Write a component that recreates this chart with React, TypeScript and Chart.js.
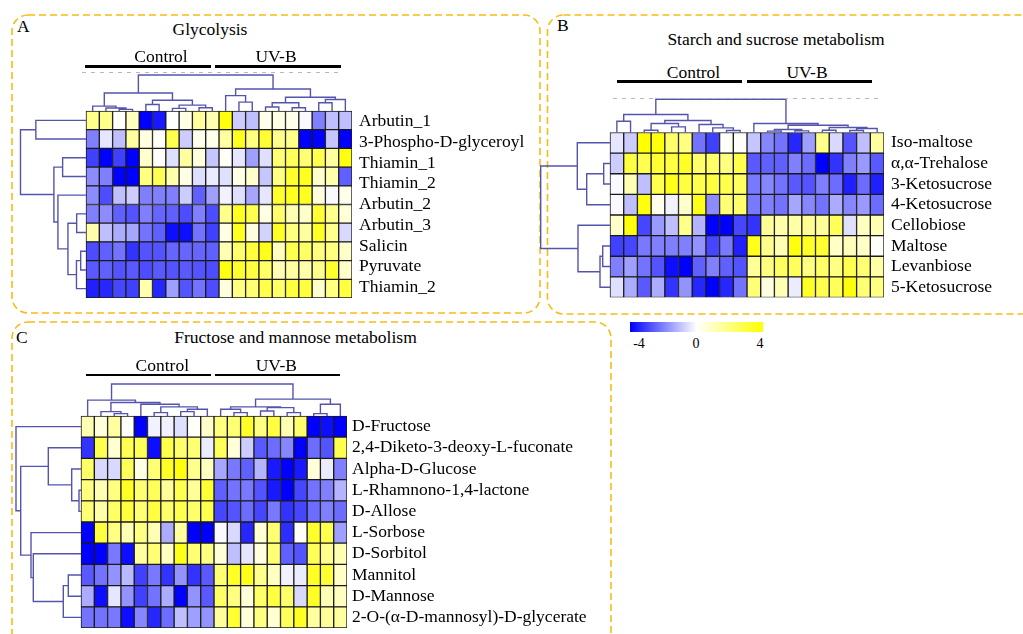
import React, { useEffect, useRef } from "react";
import { Chart, registerables } from "chart.js";

Chart.register(...registerables);

const FONT = '"Times New Roman", "Liberation Serif", serif';

// ---------------- DATA ----------------
const groupNames = ["Control", "UV-B"];
const colorbarTicks = ["-4", "0", "4"];

// Panel A: Glycolysis (10 rows x 20 samples; 9 row labels as in the figure)
const glycolysisLabels = [
  "Arbutin_1", "3-Phospho-D-glyceroyl", "Thiamin_1", "Thiamin_2", "Arbutin_2",
  "Arbutin_3", "Salicin", "Pyruvate", "Thiamin_2",
];
const glycolysisValues = [
  [1.8, 1.8, 0.1, 1.0, -4, -3.6, 0, 0.4, 1.5, 1.2, 3.8, -0.8, -1, 0.3, 0.4, 0.3, -0.1, -2, -1, -1],
  [-2, -0.4, -1, 1.5, 0.5, 0.1, 2.8, -0.8, 0.3, 0.3, 1.5, 3.5, 2, 3.2, 1.8, 1.8, -4, -4, -0.9, -4],
  [-3, -4, -3, -4, 0.8, 0.1, -0.5, 1.5, 0.5, -0.9, 0.1, -0.4, -1.5, -0.5, 2.2, 2.6, 2.2, 2.8, 1.5, 3.8],
  [-1.8, -2, -4, -4, 2, 2.7, 1.3, 0.4, -0.5, -0.3, -0.5, 0.4, 0.8, -0.9, 2, 3.3, 3.5, 0.8, 1.3, -2.5],
  [-1.8, -2.8, -1, -0.8, -2, -2, -2, -0.8, -2.5, -1.5, -0.2, -0.5, -1.4, -0.4, 3.3, 3.5, 3.5, 0.5, -0.1, 0.3],
  [-2, -1.8, -2.5, -2.7, -2, -2.4, -2.5, -2.8, -2, -2.8, 1.8, 3.5, 2.8, 0.4, 2.3, 1.2, 0.8, 3.2, 1.8, 0.6],
  [1.3, -1, -1.3, -1.4, -2.2, -2.5, -3.8, -3.8, -2.2, -3, 0.4, 3.5, 0.5, -0.7, 3.4, 2, 1.5, 3.4, 1.8, -0.6],
  [-2.8, -2.5, -2.2, -3.2, -2.7, -2.7, -2.4, -2.4, -2.4, -2.5, 1.2, 2.3, 3, 3.6, 1, 2.8, 2.4, 2, 2, 0.8],
  [-2.6, -2.5, -2.7, -2.6, -2.8, -2.6, -2.7, -2.6, -2.7, -2.8, 3.7, 3.3, 3, 2.4, 1.2, 1.5, 1.3, 1.8, 3.3, 0.8],
  [-3.5, -3.4, -2.9, -3, 1.3, -3.4, -1.5, -2.7, -2.2, -2.8, 0.5, 2, 2.2, 2.8, 2.4, 3, 3, 0.8, 2, 3],
];
// trees: leaf = index, node = [left, right, height]
const glycolysisColTree = [
  [[0, [1, [2, 3, 5], 9], 15], [[4, 5, 20], [[6, 7, 8], [8, 9, 10], 18], 33], 55],
  [[10, [11, 12, 27], 47], [[[13, 14, 12], [15, 16, 10], 25], [[17, 18, 25], 19, 35], 42], 67],
  110,
];
const glycolysisRowTree = [
  [0, 1, 50],
  [[2, 3, 23.3], [4, [[5, 6, 9.3], [[7, 8, 5.3], 9, 9.5], 18], 28], 32],
  65.3,
];

// Panel B: Starch and sucrose metabolism
const starchLabels = [
  "Iso-maltose", "α,α-Trehalose", "3-Ketosucrose", "4-Ketosucrose",
  "Cellobiose", "Maltose", "Levanbiose", "5-Ketosucrose",
];
const starchValues = [
  [-0.4, -0.8, 4, 3.8, 2.3, 2, -2.2, -3, 0.1, 0.1, -0.9, -1.9, -2.2, -3.4, -1.5, 1.8, -0.6, -2.7, -1, 1.5],
  [-0.8, 3, 2.8, 3.2, 3, 3.4, 2.3, 2.3, 2, 2.8, -2.6, -2.5, -2.5, -2, -2.3, -4, -3.2, -2, -1.6, -2.6],
  [-0.1, 1.2, -1, 2.8, 3.6, 3, 2.8, 3, 2.8, 2.5, -2.1, -1.9, -2.2, -2.6, -2.7, -2, -2.3, -3.5, -2.3, -3.5],
  [-0.1, -1, 3.8, 0.3, -0.2, 0.8, 3.6, -1.8, 2.2, 2.3, -2.1, -2, -2.2, -1.4, -1.9, -2.2, -1.3, -1.9, -1.6, -2.3],
  [0.8, 3.8, -2.9, -1.6, -1, 1.8, -1.2, -4, -4, -2.9, -3.2, 1.6, 1.3, 1.4, 1.7, 1.6, 2.6, -0.5, 1, 1.2],
  [-3, -2.9, -2.1, -2, -2, -2, -1.7, -2.9, -2.1, -3.5, 3.6, 1.8, 1.2, 3.8, 3.4, 3.2, 0.9, 1.1, 0.9, 0.1],
  [-2, -1.5, -2.2, -2.7, -3.8, -4, -2.5, -2, -2.5, -2.7, 1.6, 2, 2.5, 2.6, 2, 2.4, 2, 2.8, 2.2, 1.4],
  [-0.5, -1.3, -2.6, -1.3, -3.2, -1.7, -3.4, -4, -3.4, -2.2, 2.2, 0.5, 1.2, -0.3, 3.4, 2.8, 2.6, 3.8, 2.2, 2],
];
const starchColTree = [
  [[0, 1, 34], [[[2, 3, 7], [4, 5, 17], 27], [6, [7, [8, 9, 6], 14], 24], 36], 54],
  [10, [[[11, 12, 4], [13, 14, 5], 9], [[15, 16, 7], [[17, 18, 6], 19, 12], 15], 22], 27],
  100,
];
const starchRowTree = [
  [0, [[1, 2, 6.3], 3, 23.3], 32.7],
  [4, [[5, 6, 7.3], 7, 10], 32],
  69.3,
];

// Panel C: Fructose and mannose metabolism
const fructoseLabels = [
  "D-Fructose", "2,4-Diketo-3-deoxy-L-fuconate", "Alpha-D-Glucose", "L-Rhamnono-1,4-lactone",
  "D-Allose", "L-Sorbose", "D-Sorbitol", "Mannitol", "D-Mannose", "2-O-(α-D-mannosyl)-D-glycerate",
];
const fructoseValues = [
  [1.2, 0.6, 1.5, 0.1, -4, -0.2, -0.2, -0.5, 0.1, 0.8, 2, 2.2, 3.4, 2, 3, 1.2, 2.3, -4, -3.8, -4],
  [-3.2, 2.8, 0.7, 2.7, 2.6, -3.8, 2.8, 2.3, 2.2, -0.3, 2.6, 0.6, -0.8, -2.6, -2.3, -1.9, -4, -2.3, -2.7, 2.8],
  [2.4, -0.6, -0.6, 2.6, 0.4, 2.2, 3.4, 3.8, 1.8, 1, -1.4, -2.1, -2.5, -1.2, -3.6, -4, -3.6, 0.6, -0.3, -2],
  [2, 1.2, 2, 3.4, 2.2, 2.6, 1.6, 2.8, 1.6, 3.2, -2.5, -2.2, -2.1, -2.7, -3.6, -4, -2.9, -2.2, -2, -1.2],
  [2.2, 1.4, 2.4, 3, 2.2, 3, 2.3, 2.8, 2.3, 2.8, -2.9, -2.7, -2.3, -2.9, -2.1, -3.2, -2.9, -2.3, -2, -2.3],
  [-4, 3, 2, 1.2, 2, 1.2, -1.3, 1.5, -4, -4, -0.1, -0.6, -3.4, 0.7, 2.2, -3.3, 0.1, 3.3, 2.8, -1.5],
  [-4, -4, -2.1, -3.8, 1.5, 2.2, 1, 3.6, 2.2, 2, 0.6, -1, -0.4, 0.5, 2.2, -2.5, -2.7, 2.6, 1.8, 1.2],
  [-2.6, -2.2, -1.7, -1.1, -3, -2.1, -3.2, -1.7, -3.2, -2.6, 2.2, 3.4, 3.6, 1.8, 1, -0.2, -0.3, 3.4, 3.2, 0.9],
  [-1.3, -3.8, -0.4, -1.7, -3, -2.2, -1.3, -4, -1.7, -2.6, 2.4, 2, 0.6, 2.4, 3, 2.3, -0.6, 3.4, 1.2, 1],
  [-2.2, -2.2, -2.1, -3.8, -1.9, -3.4, -2.3, -1, -1.5, -1.7, 1.6, 3.2, 0.6, 2, 0.7, 2.6, 3.4, 1.5, 1.6, 1.5],
];
const fructoseColTree = [
  [0, [[1, [2, 3, 7], 13], [4, [[5, 6, 10], [[7, 8, 13], 9, 20], 27], 35], 40], 47],
  [[[10, [11, 12, 10], 20], [[13, 14, 15], [15, 16, 10], 25], 27], [[17, 18, 7], 19, 35], 50],
  95,
];
const fructoseRowTree = [
  0,
  [[1, [2, [3, 4, 2], 9.3], 32.7], [5, [6, [[7, 8, 12.7], 9, 17.7], 47.7], 50], 60.3],
  65,
];

// ---------------- LAYOUT (pixels) ----------------
const panelGeom = {
  A: { left: 0, top: 60, w: 540, h: 250, dLeft: 20.5, dTop: 75, hx0: 86, hx1: 352, hy0: 111, hy1: 298, pad: 7 },
  B: { left: 530, top: 90, w: 493, h: 215, dLeft: 540.7, dTop: 99.3, hx0: 610, hx1: 884, hy0: 132.5, hy1: 297.5, pad: 7 },
  C: { left: 0, top: 375, w: 610, h: 259, dLeft: 16, dTop: 384, hx0: 81, hx1: 347, hy0: 416, hy1: 628, pad: 5 },
};

const DENDRO_COLOR = "#5454ae";

function valueColor(v: number) {
  const t = Math.min(1, Math.abs(v) / 4);
  const c = Math.round(255 * (1 - t));
  return v < 0 ? `rgb(${c},${c},255)` : `rgb(255,255,${c})`;
}

type TNode = any;
function layoutTree(node: TNode, lines: { p: number; h: number }[][]): { pos: number; h: number } {
  if (typeof node === "number") return { pos: node + 0.5, h: 0 };
  const a = layoutTree(node[0], lines);
  const b = layoutTree(node[1], lines);
  const h = node[2];
  lines.push([
    { p: a.pos, h: a.h },
    { p: a.pos, h },
    { p: b.pos, h },
    { p: b.pos, h: b.h },
  ]);
  return { pos: (a.pos + b.pos) / 2, h };
}

function dendroPoints(tree: TNode, toXY: (p: number, h: number) => { x: number; y: number }) {
  const lines: { p: number; h: number }[][] = [];
  layoutTree(tree, lines);
  const pts: { x: number; y: number }[] = [];
  lines.forEach((ln) => {
    ln.forEach((q) => pts.push(toXY(q.p, q.h)));
    pts.push({ x: NaN, y: NaN });
  });
  return pts;
}

function buildConfig(values: number[][], labels: string[], colTree: TNode, rowTree: TNode, g: any) {
  const nRows = values.length;
  const nCols = values[0].length;
  const colW = (g.hx1 - g.hx0) / nCols;
  const rowH = (g.hy1 - g.hy0) / nRows;
  const xMin = -(g.hx0 - g.dLeft) / colW;
  const yMin = -(g.hy0 - g.dTop) / rowH;
  const colRoot = colTree[2];
  const rowRoot = rowTree[2];

  const bars = Array.from({ length: nCols }, (_, c) => ({
    type: "bar",
    data: values.map((_row, r) => ({ x: c + 0.5, y: [r, r + 1] })),
    backgroundColor: values.map((row) => valueColor(row[c])),
    borderColor: "#1a1a1a",
    borderWidth: 1,
    borderSkipped: false,
    grouped: false,
    barPercentage: 1,
    categoryPercentage: 1,
    xAxisID: "x",
    yAxisID: "y",
    order: 2,
  }));

  const lineStyle = {
    type: "line",
    borderColor: DENDRO_COLOR,
    borderWidth: 1.4,
    pointRadius: 0,
    fill: false,
    spanGaps: false,
    tension: 0,
    clip: false,
    xAxisID: "x",
    yAxisID: "y",
    order: 1,
  };
  const colLines = {
    ...lineStyle,
    data: dendroPoints(colTree, (p, h) => ({ x: p, y: (h / colRoot) * yMin })),
  };
  const rowLines = {
    ...lineStyle,
    data: dendroPoints(rowTree, (p, h) => ({ x: (h / rowRoot) * xMin, y: p })),
  };

  const labelW = g.left + g.w - g.hx1;
  const canvasBottom = g.top + g.h;

  return {
    type: "bar",
    data: { datasets: [...bars, colLines, rowLines] },
    options: {
      animation: false,
      responsive: false,
      devicePixelRatio: 1,
      events: [],
      layout: {
        padding: { left: g.dLeft - g.left, top: g.dTop - g.top, right: 0, bottom: canvasBottom - g.hy1 },
      },
      plugins: { legend: { display: false }, tooltip: { enabled: false }, title: { display: false } },
      scales: {
        x: {
          type: "linear",
          display: false,
          min: xMin,
          max: nCols,
          afterBuildTicks: (s: any) => {
            s.ticks = [];
          },
        },
        y: {
          type: "linear",
          display: false,
          reverse: true,
          min: yMin,
          max: nRows,
        },
        yl: {
          type: "linear",
          position: "right",
          reverse: true,
          min: yMin,
          max: nRows,
          grid: { display: false, drawTicks: false },
          border: { display: false },
          ticks: {
            autoSkip: false,
            color: "#000",
            padding: g.pad,
            font: { family: FONT, size: 17.5 },
            callback: (_v: any, i: number) => labels[i],
          },
          afterBuildTicks: (s: any) => {
            s.ticks = labels.map((_l, k) => ({ value: ((k + 0.5) * nRows) / labels.length }));
          },
          afterFit: (s: any) => {
            s.width = labelW;
            s.paddingTop = 0;
            s.paddingBottom = 0;
          },
        },
      },
    },
  };
}

function HeatPanel({ values, labels, colTree, rowTree, geom }: any) {
  const ref = useRef<HTMLCanvasElement>(null);
  useEffect(() => {
    if (!ref.current) return;
    const chart = new Chart(ref.current, buildConfig(values, labels, colTree, rowTree, geom) as any);
    return () => chart.destroy();
  }, []);
  return (
    <canvas
      ref={ref}
      width={geom.w}
      height={geom.h}
      style={{ position: "absolute", left: geom.left, top: geom.top, width: geom.w, height: geom.h }}
    />
  );
}

function Txt({ x, y, children, align = "center", size = 17.5 }: any) {
  return (
    <div
      style={{
        position: "absolute",
        left: x,
        top: y,
        transform: align === "center" ? "translate(-50%,-50%)" : "translate(0,-50%)",
        fontSize: size,
        lineHeight: 1,
        whiteSpace: "nowrap",
        fontFamily: FONT,
        color: "#000",
      }}
    >
      {children}
    </div>
  );
}

function HLine({ x0, x1, y, t = 2.6, color = "#000" }: any) {
  return <div style={{ position: "absolute", left: x0, top: y - t / 2, width: x1 - x0, height: t, background: color }} />;
}

function Dashes({ x0, x1, y }: any) {
  return (
    <div
      style={{
        position: "absolute",
        left: x0,
        top: y,
        width: x1 - x0,
        height: 1,
        background: "repeating-linear-gradient(to right, #b8b8b8 0 4px, transparent 4px 9px)",
      }}
    />
  );
}

export default function App() {
  useEffect(() => {
    document.body.style.margin = "0";
  }, []);
  const border = { stroke: "#F9BC15", strokeWidth: 1.6, fill: "none", strokeDasharray: "7 4" };
  return (
    <div
      style={{
        position: "fixed",
        left: 0,
        top: 0,
        width: 1023,
        height: 634,
        background: "#fff",
        overflow: "hidden",
        fontFamily: FONT,
      }}
    >
      <svg width={1023} height={634} style={{ position: "absolute", left: 0, top: 0 }}>
        <rect x={12} y={15} width={528} height={298} rx={16} ry={16} {...border} />
        <rect x={547.5} y={15} width={500} height={299} rx={16} ry={16} {...border} />
        <rect x={12} y={322} width={599} height={330} rx={16} ry={16} {...border} />
      </svg>

      <HeatPanel values={glycolysisValues} labels={glycolysisLabels} colTree={glycolysisColTree} rowTree={glycolysisRowTree} geom={panelGeom.A} />
      <HeatPanel values={starchValues} labels={starchLabels} colTree={starchColTree} rowTree={starchRowTree} geom={panelGeom.B} />
      <HeatPanel values={fructoseValues} labels={fructoseLabels} colTree={fructoseColTree} rowTree={fructoseRowTree} geom={panelGeom.C} />

      {/* Panel A header */}
      <Txt x={17} y={27} align="left">A</Txt>
      <Txt x={210} y={30}>Glycolysis</Txt>
      <Txt x={161} y={57}>{groupNames[0]}</Txt>
      <Txt x={276} y={57}>{groupNames[1]}</Txt>
      <HLine x0={84.5} x1={210.5} y={66.7} />
      <HLine x0={215} x1={340.7} y={66.7} />
      <Dashes x0={82} x1={342} y={72} />

      {/* Panel B header */}
      <Txt x={557} y={26} align="left">B</Txt>
      <Txt x={776} y={40}>Starch and sucrose metabolism</Txt>
      <Txt x={693.5} y={72.7}>{groupNames[0]}</Txt>
      <Txt x={807} y={72.7}>{groupNames[1]}</Txt>
      <HLine x0={617} x1={742} y={81.7} />
      <HLine x0={747} x1={872} y={81.7} />
      <Dashes x0={613} x1={880} y={98} />

      {/* Panel C header */}
      <Txt x={16} y={338} align="left">C</Txt>
      <Txt x={295.5} y={338}>Fructose and mannose metabolism</Txt>
      <Txt x={162.3} y={366}>{groupNames[0]}</Txt>
      <Txt x={276.3} y={366}>{groupNames[1]}</Txt>
      <HLine x0={86} x1={211} y={375} />
      <HLine x0={215} x1={340} y={375} />

      {/* Colour key */}
      <div
        style={{
          position: "absolute",
          left: 630,
          top: 322,
          width: 133,
          height: 10,
          background: "linear-gradient(to right, #0000ff, #ffffff, #ffff00)",
        }}
      />
      <Txt x={639} y={344} size={14}>{colorbarTicks[0]}</Txt>
      <Txt x={696} y={344} size={14}>{colorbarTicks[1]}</Txt>
      <Txt x={760} y={344} size={14}>{colorbarTicks[2]}</Txt>
    </div>
  );
}
